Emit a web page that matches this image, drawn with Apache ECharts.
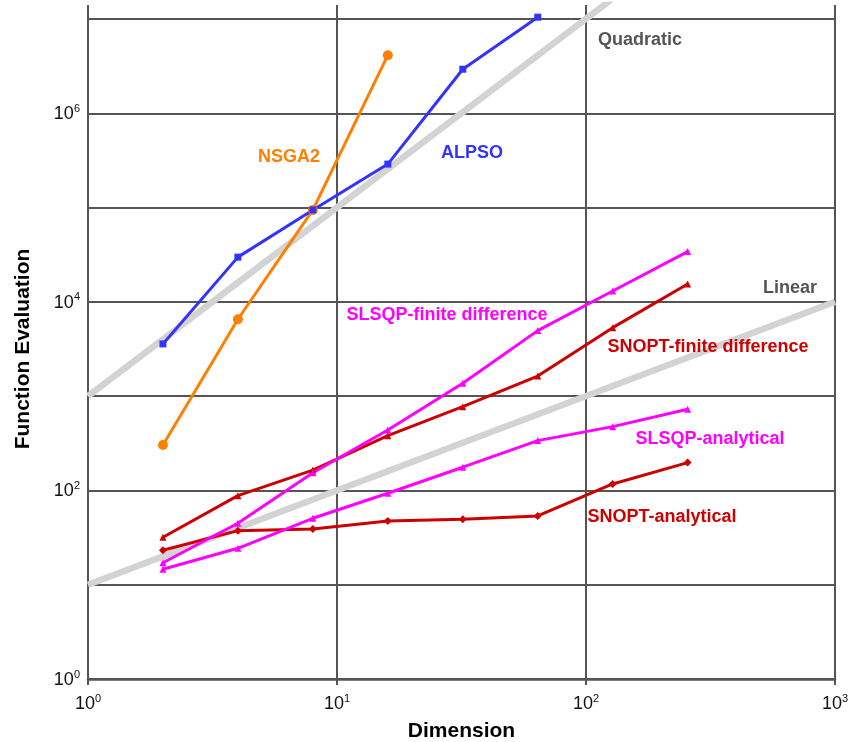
<!DOCTYPE html>
<html>
<head>
<meta charset="utf-8">
<script src="https://cdn.jsdelivr.net/npm/echarts@6/dist/echarts.min.js"></script>
<style>
html,body{margin:0;padding:0;background:#fff;}
#chart{width:851px;height:742px;}
</style>
</head>
<body>
<div id="chart"></div>
<script>
// ---- data ----
const dims = [2, 4, 8, 16, 32, 64, 128, 256];
const alpso = [3570, 29700, 94000, 288000, 2920000, 10400000];
const nsga2 = [303, 6520, 94000, 4110000];
const slsqpFD = [17.1, 44.8, 154, 437, 1370, 4940, 13000, 34000];
const snoptFD = [31.8, 87.9, 164, 380, 772, 1630, 5310, 15400];
const slsqpAn = [14.6, 24.3, 50.6, 93.2, 176, 337, 474, 724];
const snoptAn = [23.2, 37.4, 39.0, 47.4, 49.4, 53.5, 117, 197];
const refX = [1, 1000];
const linearY = [10, 10000];
const quadraticY = [1000, 1000000000];

const FONT = '"Liberation Sans", Arial, Helvetica, sans-serif';
const pairs = (xs, ys) => ys.map((y, i) => [xs[i], y]);

const expOf = v => Math.round(Math.log10(v));
const supFmt = v => '{b|10}{s|' + expOf(v) + '}';
const supFmtEven = v => (expOf(v) % 2 === 0 ? supFmt(v) : '');
const richLbl = {
  b: {fontSize: 18, fontFamily: FONT, color: '#111', lineHeight: 20, verticalAlign: 'bottom'},
  s: {fontSize: 11, fontFamily: FONT, color: '#111', lineHeight: 12, verticalAlign: 'top'}
};

const gridCol = '#555555';
const L = 88, R = 16, B = 63;

function lineSeries(name, data, color, symbol, size) {
  return {
    name, type: 'line', xAxisIndex: 0, yAxisIndex: 0,
    data, symbol, symbolSize: size, showSymbol: true,
    lineStyle: {color, width: 3},
    itemStyle: {color},
    z: 5, animation: false
  };
}

const labels = [
  {t: 'Quadratic', x: 640, y: 40, c: '#555555'},
  {t: 'Linear', x: 790, y: 288, c: '#555555'},
  {t: 'NSGA2', x: 289, y: 157, c: '#ff8000'},
  {t: 'ALPSO', x: 472, y: 153, c: '#3333ff'},
  {t: 'SLSQP-finite difference', x: 447, y: 315, c: '#ff00ff'},
  {t: 'SNOPT-finite difference', x: 708, y: 347, c: '#cc0000'},
  {t: 'SLSQP-analytical', x: 710, y: 439, c: '#ff00ff'},
  {t: 'SNOPT-analytical', x: 662, y: 517, c: '#cc0000'}
];

const option = {
  backgroundColor: '#fff',
  animation: false,
  grid: [
    {left: L, right: R, top: 5, bottom: B, containLabel: false, outerBoundsMode: 'none'},
    {left: L, right: R, top: 19, bottom: B, containLabel: false, outerBoundsMode: 'none'}
  ],
  xAxis: [
    {
      gridIndex: 0, type: 'log', logBase: 10, min: 1, max: 1000,
      name: 'Dimension', nameLocation: 'middle', nameGap: 42,
      nameTextStyle: {fontSize: 21, fontWeight: 'bold', fontFamily: FONT, color: '#000'},
      axisLine: {show: true, onZero: false, lineStyle: {color: gridCol, width: 2.5}},
      axisTick: {show: true, length: 6, lineStyle: {color: gridCol, width: 2}},
      axisLabel: {formatter: supFmt, rich: richLbl, margin: 14},
      splitLine: {show: true, lineStyle: {color: gridCol, width: 2}},
      minorTick: {show: false}
    },
    {
      gridIndex: 1, type: 'log', logBase: 10, min: 1, max: 1000, show: false
    }
  ],
  yAxis: [
    {
      gridIndex: 0, type: 'log', logBase: 10, min: 1, max: 14000000,
      axisLine: {show: false}, axisTick: {show: false},
      axisLabel: {show: false}, splitLine: {show: false}
    },
    {
      gridIndex: 1, type: 'log', logBase: 10, min: 1, max: 10000000,
      name: 'Function Evaluation', nameLocation: 'middle', nameGap: 54,
      nameRotate: 90,
      nameTextStyle: {fontSize: 21, fontWeight: 'bold', fontFamily: FONT, color: '#000'},
      axisLine: {show: false}, axisTick: {show: false},
      axisLabel: {formatter: supFmtEven, rich: richLbl, margin: 8},
      splitLine: {show: true, lineStyle: {color: gridCol, width: 2}}
    }
  ],
  series: [
    {
      name: 'Quadratic', type: 'line', xAxisIndex: 0, yAxisIndex: 0,
      data: pairs(refX, quadraticY), symbol: 'none', clip: true,
      lineStyle: {color: '#d3d3d3', width: 6.5}, z: 3
    },
    {
      name: 'Linear', type: 'line', xAxisIndex: 0, yAxisIndex: 0,
      data: pairs(refX, linearY), symbol: 'none', clip: true,
      lineStyle: {color: '#d3d3d3', width: 6.5}, z: 3
    },
    lineSeries('SNOPT-analytical', pairs(dims, snoptAn), '#cc0000', 'diamond', 8),
    lineSeries('SLSQP-analytical', pairs(dims, slsqpAn), '#ff00ff', 'triangle', 7),
    lineSeries('SNOPT-finite difference', pairs(dims, snoptFD), '#cc0000', 'triangle', 7),
    lineSeries('SLSQP-finite difference', pairs(dims, slsqpFD), '#ff00ff', 'triangle', 7),
    lineSeries('NSGA2', pairs(dims, nsga2), '#ff8000', 'circle', 10),
    lineSeries('ALPSO', pairs(dims, alpso), '#3333ff', 'rect', 7)
  ],
  graphic: labels.map(l => ({
    type: 'text', x: l.x, y: l.y, z: 10,
    style: {text: l.t, fill: l.c, font: 'bold 18px ' + FONT, align: 'center', verticalAlign: 'middle'}
  }))
};

const chart = echarts.init(document.getElementById('chart'), null, {renderer: 'canvas'});
chart.setOption(option);
</script>
</body>
</html>
